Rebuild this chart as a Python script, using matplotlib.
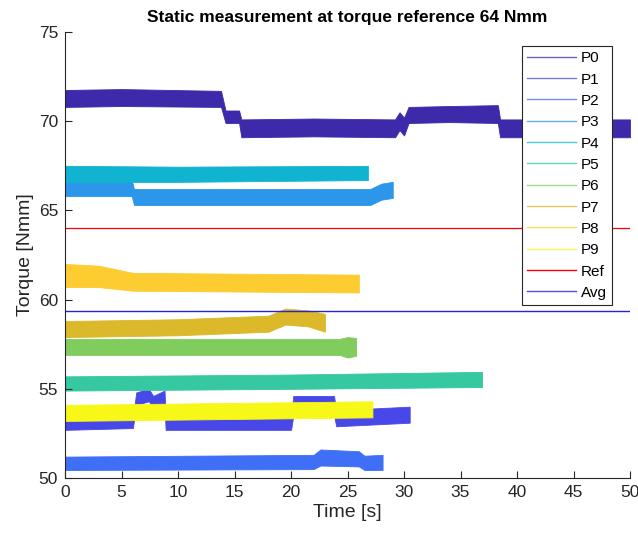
import matplotlib.pyplot as plt
from matplotlib.lines import Line2D

plt.rcParams['font.family'] = ['Liberation Sans', 'DejaVu Sans']

P0_t = [0, 5, 13.8, 14.2, 15.4, 15.6, 22, 29.2, 29.6, 30.0, 30.4, 34, 38.3, 38.5, 50]
P0_lo = [70.8, 70.85, 70.8, 69.9, 69.9, 69.1, 69.15, 69.1, 69.5, 69.2, 69.9, 69.95, 69.9, 69.1, 69.1]
P0_hi = [71.75, 71.8, 71.7, 70.6, 70.6, 70.1, 70.15, 70.1, 70.5, 70.2, 70.8, 70.85, 70.9, 70.1, 70.1]

P1_t = [0, 6.0, 6.3, 7.4, 7.8, 8.8, 8.9, 20.0, 20.2, 23.8, 24.0, 30.5]
P1_lo = [52.7, 52.8, 54.1, 54.3, 54.0, 54.1, 52.7, 52.7, 53.5, 53.5, 52.9, 53.1]
P1_hi = [53.3, 53.4, 54.8, 55.0, 54.6, 54.9, 53.4, 53.5, 54.6, 54.6, 53.8, 54.0]

P2_t = [0, 22.0, 22.6, 26.0, 26.5, 28.1]
P2_lo = [50.45, 50.5, 50.7, 50.65, 50.45, 50.45]
P2_hi = [51.2, 51.3, 51.6, 51.5, 51.25, 51.3]

P3_t = [0, 5.9, 6.1, 27.0, 28.0, 29.0]
P3_lo = [65.8, 65.8, 65.3, 65.3, 65.6, 65.7]
P3_hi = [66.7, 66.7, 66.2, 66.2, 66.5, 66.6]

P4_t = [0, 10, 26.8]
P4_lo = [66.6, 66.6, 66.7]
P4_hi = [67.5, 67.45, 67.5]

P5_t = [0, 20, 36.9]
P5_lo = [54.9, 55.0, 55.1]
P5_hi = [55.7, 55.8, 55.95]

P6_t = [0, 24.3, 25.0, 25.75]
P6_lo = [56.9, 56.9, 56.75, 56.85]
P6_hi = [57.8, 57.8, 57.9, 57.85]

P7_t = [0, 10, 18, 19.5, 21.5, 23.0]
P7_lo = [57.9, 58.0, 58.2, 58.6, 58.5, 58.2]
P7_hi = [58.8, 58.9, 59.1, 59.5, 59.4, 59.2]

P8_t = [0, 3, 6, 26.0]
P8_lo = [60.7, 60.7, 60.5, 60.4]
P8_hi = [62.0, 61.9, 61.5, 61.4]

P9_t = [0, 27.2]
P9_lo = [53.2, 53.4]
P9_hi = [54.1, 54.3]

ref_value = 64
avg_value = 59.36

names = ['P0', 'P1', 'P2', 'P3', 'P4', 'P5', 'P6', 'P7', 'P8', 'P9']
colors = ['#3d2aaa', '#4848e8', '#3e6ff6', '#2c96ea', '#10b4d0',
          '#36c8a0', '#80cc5c', '#dbb92b', '#fccc30', '#f8f818']
traces = [(P0_t, P0_lo, P0_hi), (P1_t, P1_lo, P1_hi), (P2_t, P2_lo, P2_hi),
          (P3_t, P3_lo, P3_hi), (P4_t, P4_lo, P4_hi), (P5_t, P5_lo, P5_hi),
          (P6_t, P6_lo, P6_hi), (P7_t, P7_lo, P7_hi), (P8_t, P8_lo, P8_hi),
          (P9_t, P9_lo, P9_hi)]

fig = plt.figure(figsize=(6.38, 5.35), dpi=100)
ax = fig.add_axes([0.102, 0.1065, 0.8855, 0.8337])

handles = []
for (t, lo, hi), c, n in zip(traces, colors, names):
    ax.fill_between(t, lo, hi, color=c, linewidth=0.6, edgecolor=c)
    handles.append(Line2D([], [], color=c, lw=1.0, alpha=0.75, label=n))

ax.axhline(ref_value, color='#ff0000', lw=0.9)
ax.axhline(avg_value, color='#2424dc', lw=1.0)
handles.append(Line2D([], [], color='#ff0000', lw=1.0, label='Ref'))
handles.append(Line2D([], [], color='#2424dc', lw=1.0, alpha=0.8, label='Avg'))

ax.set_xlim(0, 50)
ax.set_ylim(50, 75)
ax.set_xticks(range(0, 51, 5))
ax.set_yticks(range(50, 76, 5))
ax.tick_params(direction='in', length=5, width=0.8, labelsize=12.5,
               colors='#262626', pad=5)
for s in ['top', 'right']:
    ax.spines[s].set_visible(False)
for s in ['left', 'bottom']:
    ax.spines[s].set_color('#262626')
    ax.spines[s].set_linewidth(0.8)

ax.set_xlabel('Time [s]', fontsize=14, color='#262626', labelpad=3)
ax.set_ylabel('Torque [Nmm]', fontsize=14, color='#262626', labelpad=3)
ax.set_title('Static measurement at torque reference 64 Nmm',
             fontsize=12.5, fontweight='bold', pad=7)

leg = ax.legend(handles=handles, loc='upper left',
                bbox_to_anchor=(0.809, 0.969), fontsize=11,
                handlelength=3.2, labelspacing=0.48, borderpad=0.35,
                handletextpad=0.3, fancybox=False, framealpha=1,
                edgecolor='#262626', borderaxespad=0)
leg.get_frame().set_linewidth(0.8)

plt.savefig('out.png', dpi=100)
